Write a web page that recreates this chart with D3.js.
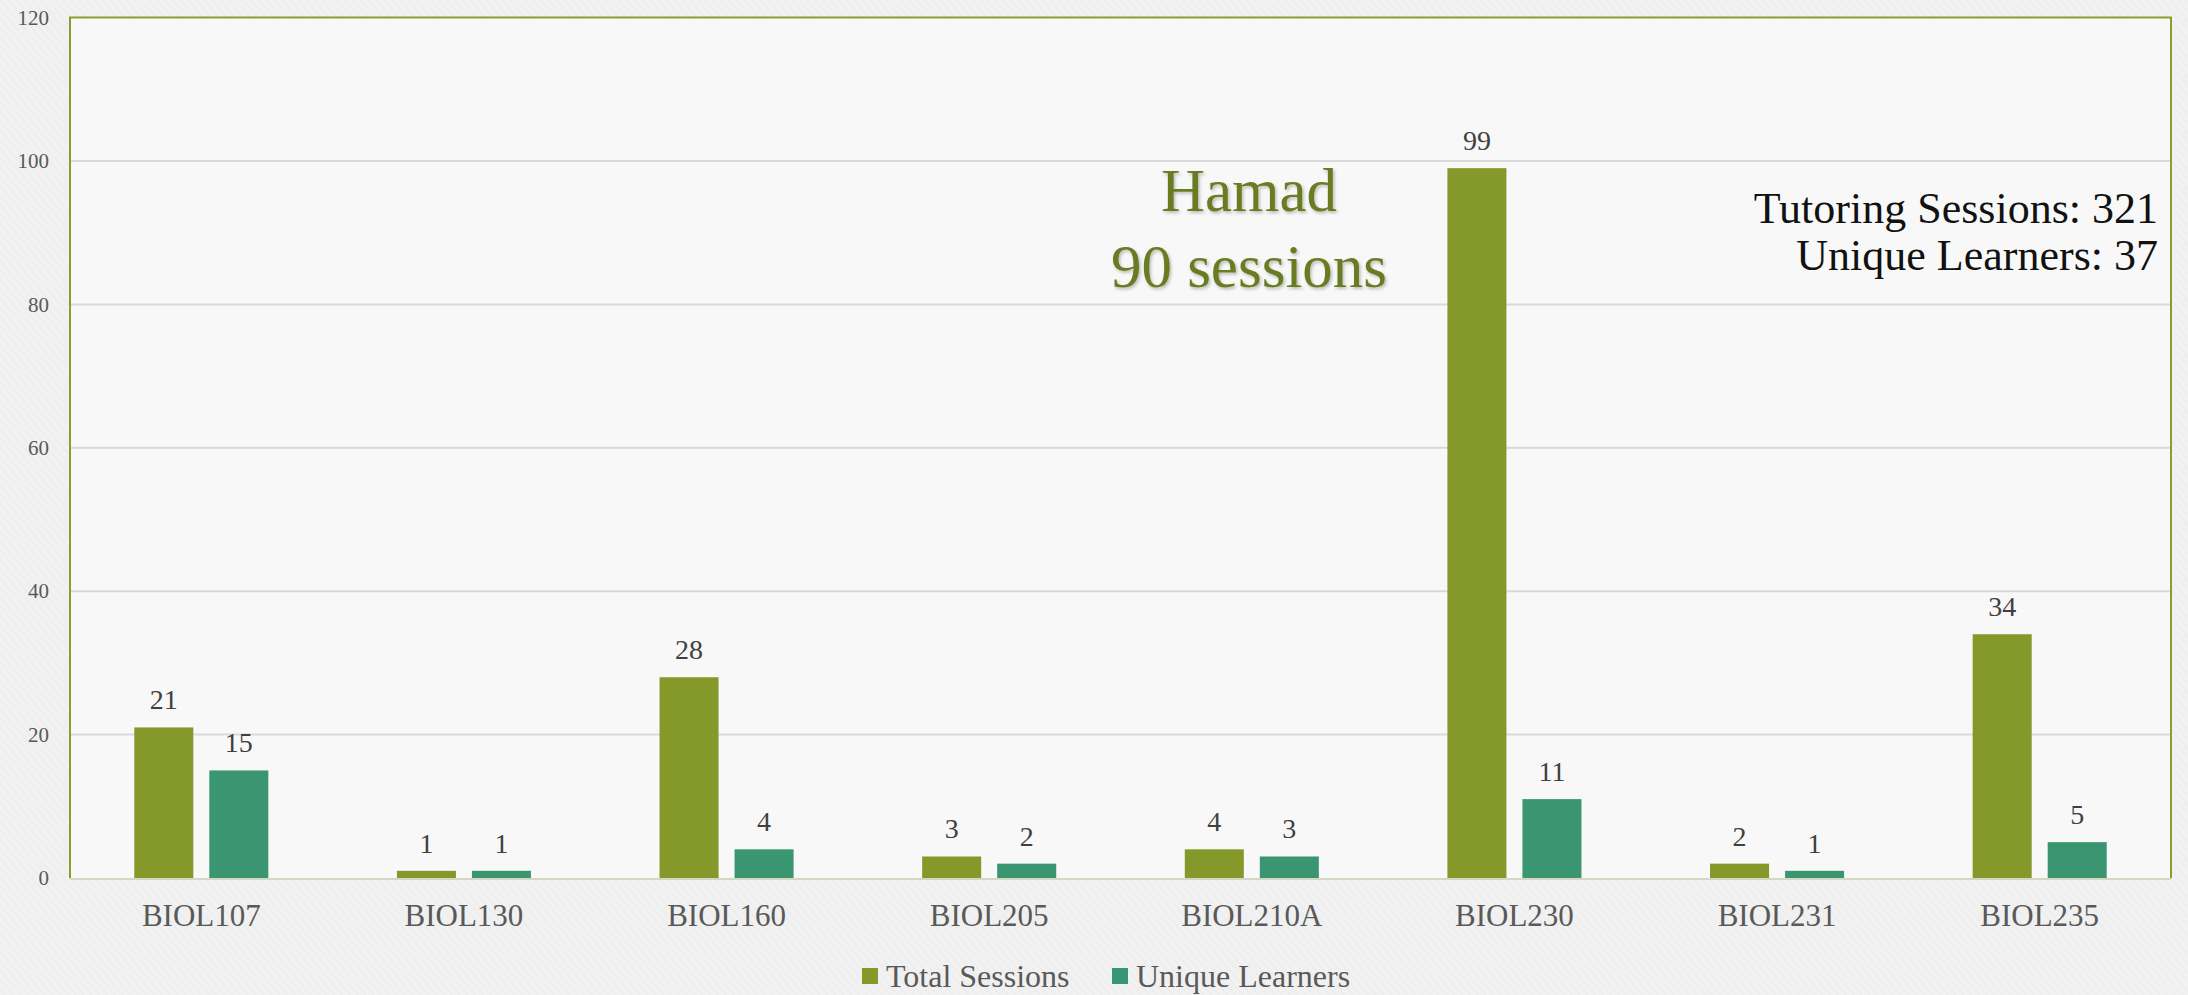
<!DOCTYPE html>
<html>
<head>
<meta charset="utf-8">
<script src="https://cdn.jsdelivr.net/npm/d3@7"></script>
<style>
  html, body { margin: 0; padding: 0; background: #efefef; }
  svg { display: block; font-family: "Liberation Serif", "Times New Roman", serif; }
</style>
</head>
<body>
<svg id="chart"></svg>
<script>
// data
const categories = ['BIOL107', 'BIOL130', 'BIOL160', 'BIOL205', 'BIOL210A', 'BIOL230', 'BIOL231', 'BIOL235'];
const totalSessions = [21, 1, 28, 3, 4, 99, 2, 34];
const uniqueLearners = [15, 1, 4, 2, 3, 11, 1, 5];
const seriesNames = ['Total Sessions', 'Unique Learners'];
const yTicks = [0, 20, 40, 60, 80, 100, 120];
const tutorName = 'Hamad';
const tutorSessions = '90 sessions';
const summaryLines = ['Tutoring Sessions: 321', 'Unique Learners: 37'];

const width = 2188, height = 995;
const margin = {top: 17.6, right: 17, bottom: 117, left: 70};

const colorScale = d3.scaleOrdinal()
    .domain(seriesNames)
    .range(['#85992b', '#3a9571']);

let svg = d3.select('#chart')
    .attr('width', width)
    .attr('height', height);

// subtle diagonal paper texture
let defs = svg.append('defs');
let pat = defs.append('pattern')
    .attr('id', 'paper')
    .attr('width', 6).attr('height', 6)
    .attr('patternUnits', 'userSpaceOnUse')
    .attr('patternTransform', 'rotate(-40)');
pat.append('rect').attr('width', 6).attr('height', 6).attr('fill', '#f1f1f1');
pat.append('line').attr('x1', 0).attr('y1', 0).attr('x2', 0).attr('y2', 6)
    .attr('stroke', '#ebebeb').attr('stroke-width', 2);

let shadow = defs.append('filter').attr('id', 'shadow')
    .attr('x', '-10%').attr('y', '-10%').attr('width', '120%').attr('height', '130%');
shadow.append('feDropShadow')
    .attr('dx', 1.5).attr('dy', 2).attr('stdDeviation', 1.5)
    .attr('flood-color', '#000').attr('flood-opacity', 0.25);

svg.append('rect').attr('width', width).attr('height', height).attr('fill', 'url(#paper)');

let x0 = d3.scaleBand()
    .domain(categories)
    .range([margin.left, width - margin.right]);

let x1 = d3.scaleBand()
    .domain(seriesNames)
    .range([0, x0.bandwidth()])
    .paddingInner(0.2133)
    .paddingOuter(0.857);

let y = d3.scaleLinear()
    .domain([0, 120])
    .range([height - margin.bottom, margin.top]);

// plot area
svg.append('rect')
    .attr('x', margin.left).attr('y', margin.top)
    .attr('width', width - margin.left - margin.right)
    .attr('height', y(0) - margin.top)
    .attr('fill', '#f8f8f8');

// gridlines
svg.append('g')
    .selectAll('line')
    .data(yTicks.filter(t => t > 0 && t < 120))
    .enter()
    .append('line')
        .attr('x1', margin.left).attr('x2', width - margin.right)
        .attr('y1', d => y(d)).attr('y2', d => y(d))
        .attr('stroke', '#d9d9d9').attr('stroke-width', 2);

// y axis labels
let yAxis = svg.append('g')
    .attr('transform', `translate(${margin.left},0)`)
    .call(d3.axisLeft(y).tickValues(yTicks).tickSize(0).tickPadding(21));
yAxis.select('.domain').remove();
yAxis.selectAll('text')
    .attr('font-family', '"Liberation Serif", serif')
    .attr('font-size', 21)
    .attr('fill', '#595959');

// bars
let rows = categories.map((c, i) => ({cat: c, values: [totalSessions[i], uniqueLearners[i]]}));

let groups = svg.append('g')
    .selectAll('g')
    .data(rows)
    .enter()
    .append('g')
        .attr('transform', d => `translate(${x0(d.cat)},0)`);

let cells = groups.selectAll('g')
    .data(d => d.values.map((v, j) => ({series: seriesNames[j], value: v})))
    .enter()
    .append('g');

cells.append('rect')
    .attr('x', d => x1(d.series))
    .attr('width', x1.bandwidth())
    .attr('y', d => y(d.value))
    .attr('height', d => y(0) - y(d.value))
    .attr('fill', d => colorScale(d.series));

cells.append('text')
    .attr('x', d => x1(d.series) + x1.bandwidth() / 2)
    .attr('y', d => y(d.value) - 18)
    .attr('text-anchor', 'middle')
    .attr('font-size', 28)
    .attr('fill', '#404040')
    .text(d => d.value);

// frame: olive on left, top, right; light baseline
let left = margin.left, right = width - margin.right;
svg.append('path')
    .attr('d', `M${left},${y(0)}V${y(120)}H${right}V${y(0)}`)
    .attr('fill', 'none')
    .attr('stroke', '#87a02a')
    .attr('stroke-width', 2);
svg.append('line')
    .attr('x1', left).attr('x2', right)
    .attr('y1', y(0) + 1).attr('y2', y(0) + 1)
    .attr('stroke', '#d5d7c4').attr('stroke-width', 2);

// category labels
let xAxis = svg.append('g')
    .attr('transform', `translate(0,${y(0)})`)
    .call(d3.axisBottom(x0).tickSize(0).tickPadding(26));
xAxis.select('.domain').remove();
xAxis.selectAll('text')
    .attr('font-family', '"Liberation Serif", serif')
    .attr('font-size', 31)
    .attr('fill', '#595959');

// legend
let legendX = [862, 1112];
let legend = svg.append('g')
    .selectAll('g')
    .data(seriesNames)
    .enter()
    .append('g')
        .attr('transform', (d, i) => `translate(${legendX[i]},968)`);
legend.append('rect')
    .attr('width', 16).attr('height', 16)
    .attr('fill', d => colorScale(d));
legend.append('text')
    .attr('x', 24).attr('y', 19)
    .attr('font-size', 32)
    .attr('fill', '#595959')
    .text(d => d);

// tutor annotation
let note = svg.append('text')
    .attr('text-anchor', 'middle')
    .attr('fill', '#6a7c24')
    .attr('font-size', 61)
    .attr('filter', 'url(#shadow)');
note.append('tspan').attr('x', 1249).attr('y', 211).text(tutorName);
note.append('tspan').attr('x', 1249).attr('y', 287).text(tutorSessions);

// summary
svg.append('g')
    .selectAll('text')
    .data(summaryLines)
    .enter()
    .append('text')
        .attr('x', 2158)
        .attr('y', (d, i) => 223 + i * 47)
        .attr('text-anchor', 'end')
        .attr('font-size', 44)
        .attr('fill', '#111')
        .text(d => d);
</script>
</body>
</html>
